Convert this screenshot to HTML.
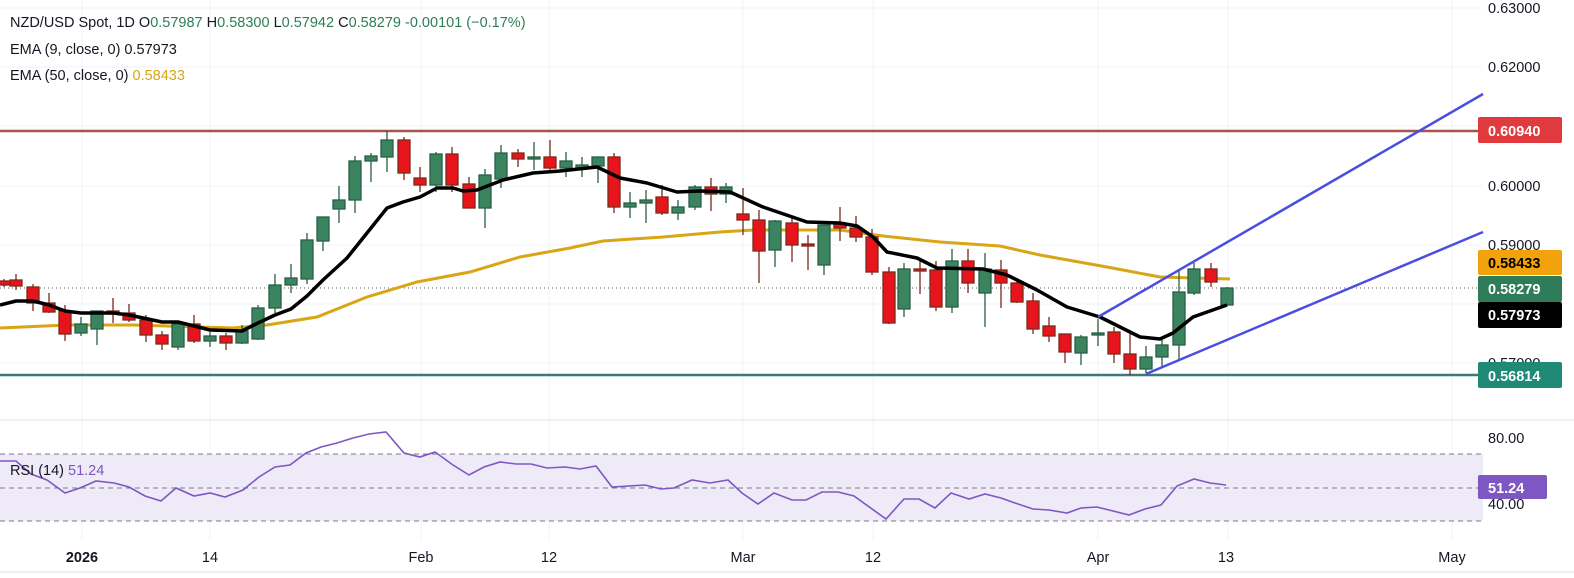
<!DOCTYPE html>
<html><head><meta charset="utf-8"><style>
html,body{margin:0;padding:0;background:#fff;}
svg{display:block;font-family:"Liberation Sans",sans-serif;}
</style></head><body>
<svg width="1574" height="578" viewBox="0 0 1574 578" xmlns="http://www.w3.org/2000/svg">
<rect width="1574" height="578" fill="#fff"/>
<g stroke="#f0f3fa" stroke-width="1">
<line x1="0" y1="8" x2="1483" y2="8"/><line x1="0" y1="67" x2="1483" y2="67"/><line x1="0" y1="126" x2="1483" y2="126"/><line x1="0" y1="186" x2="1483" y2="186"/><line x1="0" y1="245" x2="1483" y2="245"/><line x1="0" y1="304" x2="1483" y2="304"/><line x1="0" y1="363" x2="1483" y2="363"/>
<line x1="82" y1="0" x2="82" y2="540"/><line x1="210" y1="0" x2="210" y2="540"/><line x1="421" y1="0" x2="421" y2="540"/><line x1="549" y1="0" x2="549" y2="540"/><line x1="743" y1="0" x2="743" y2="540"/><line x1="873" y1="0" x2="873" y2="540"/><line x1="1098" y1="0" x2="1098" y2="540"/><line x1="1228" y1="0" x2="1228" y2="540"/><line x1="1452" y1="0" x2="1452" y2="540"/>
</g>
<line x1="0" y1="420" x2="1574" y2="420" stroke="#e0e3eb"/>
<line x1="0" y1="572" x2="1574" y2="572" stroke="#eef0f4" stroke-width="2"/>
<!-- horizontal levels -->
<line x1="0" y1="131" x2="1483" y2="131" stroke="#a4554a" stroke-width="2.5"/>
<line x1="0" y1="375" x2="1483" y2="375" stroke="#3c7a72" stroke-width="2.5"/>
<line x1="0" y1="288" x2="1483" y2="288" stroke="#555" stroke-width="1" stroke-dasharray="1,3"/>
<!-- EMA50 -->
<polyline fill="none" stroke="#d9a514" stroke-width="3" points="0,328 67,325 133,325 233,328 267,325 317,317 367,297 417,282 470,272 520,257 570,248 603,241 663,237 720,232 753,230 840,230 883,236 940,242 1000,246 1040,255 1107,267 1160,277 1230,279"/>
<!-- candles -->
<g stroke-width="1.3">
<g stroke="#7a2a1a" fill="#e8141c">
<line x1="4" y1="279" x2="4" y2="287"/><rect x="-2" y="281" width="12" height="4"/>
<line x1="16" y1="274" x2="16" y2="290"/><rect x="10" y="280" width="12" height="6"/>
<line x1="33" y1="284" x2="33" y2="311"/><rect x="27" y="287" width="12" height="16"/>
<line x1="49" y1="293" x2="49" y2="313"/><rect x="43" y="303" width="12" height="9"/>
<line x1="65" y1="305" x2="65" y2="341"/><rect x="59" y="311" width="12" height="23"/>
<line x1="113" y1="298" x2="113" y2="323"/><rect x="107" y="311" width="12" height="3"/>
<line x1="129" y1="304" x2="129" y2="322"/><rect x="123" y="313" width="12" height="7"/>
<line x1="146" y1="315" x2="146" y2="342"/><rect x="140" y="320" width="12" height="15"/>
<line x1="162" y1="331" x2="162" y2="350"/><rect x="156" y="335" width="12" height="9"/>
<line x1="194" y1="315" x2="194" y2="343"/><rect x="188" y="324" width="12" height="17"/>
<line x1="226" y1="333" x2="226" y2="350"/><rect x="220" y="336" width="12" height="7"/>
<line x1="404" y1="137" x2="404" y2="180"/><rect x="398" y="140" width="12" height="33"/>
<line x1="420" y1="167" x2="420" y2="192"/><rect x="414" y="178" width="12" height="7"/>
<line x1="452" y1="147" x2="452" y2="192"/><rect x="446" y="154" width="12" height="31"/>
<line x1="469" y1="177" x2="469" y2="208"/><rect x="463" y="184" width="12" height="24"/>
<line x1="518" y1="149" x2="518" y2="167"/><rect x="512" y="153" width="12" height="6"/>
<line x1="550" y1="140" x2="550" y2="170"/><rect x="544" y="157" width="12" height="11"/>
<line x1="614" y1="153" x2="614" y2="213"/><rect x="608" y="157" width="12" height="50"/>
<line x1="662" y1="185" x2="662" y2="215"/><rect x="656" y="197" width="12" height="16"/>
<line x1="711" y1="178" x2="711" y2="211"/><rect x="705" y="187" width="12" height="7"/>
<line x1="743" y1="188" x2="743" y2="235"/><rect x="737" y="214" width="12" height="6"/>
<line x1="759" y1="210" x2="759" y2="283"/><rect x="753" y="220" width="12" height="31"/>
<line x1="792" y1="217" x2="792" y2="262"/><rect x="786" y="223" width="12" height="22"/>
<line x1="808" y1="235" x2="808" y2="270"/><rect x="802" y="244" width="12" height="2"/>
<line x1="840" y1="207" x2="840" y2="241"/><rect x="834" y="224" width="12" height="4"/>
<line x1="856" y1="216" x2="856" y2="242"/><rect x="850" y="228" width="12" height="9"/>
<line x1="872" y1="229" x2="872" y2="275"/><rect x="866" y="237" width="12" height="35"/>
<line x1="889" y1="267" x2="889" y2="324"/><rect x="883" y="272" width="12" height="51"/>
<line x1="920" y1="260" x2="920" y2="294"/><rect x="914" y="269" width="12" height="2"/>
<line x1="936" y1="261" x2="936" y2="311"/><rect x="930" y="270" width="12" height="37"/>
<line x1="968" y1="249" x2="968" y2="293"/><rect x="962" y="261" width="12" height="22"/>
<line x1="1001" y1="260" x2="1001" y2="308"/><rect x="995" y="270" width="12" height="13"/>
<line x1="1017" y1="278" x2="1017" y2="303"/><rect x="1011" y="283" width="12" height="19"/>
<line x1="1033" y1="293" x2="1033" y2="334"/><rect x="1027" y="301" width="12" height="28"/>
<line x1="1049" y1="317" x2="1049" y2="342"/><rect x="1043" y="326" width="12" height="10"/>
<line x1="1065" y1="334" x2="1065" y2="363"/><rect x="1059" y="334" width="12" height="18"/>
<line x1="1114" y1="327" x2="1114" y2="363"/><rect x="1108" y="332" width="12" height="22"/>
<line x1="1130" y1="333" x2="1130" y2="375"/><rect x="1124" y="354" width="12" height="15"/>
<line x1="1211" y1="263" x2="1211" y2="287"/><rect x="1205" y="269" width="12" height="13"/>
</g>
<g stroke="#2a5e45" fill="#3a8560">
<line x1="81" y1="317" x2="81" y2="336"/><rect x="75" y="324" width="12" height="9"/>
<line x1="97" y1="311" x2="97" y2="345"/><rect x="91" y="311" width="12" height="18"/>
<line x1="178" y1="322" x2="178" y2="350"/><rect x="172" y="324" width="12" height="23"/>
<line x1="210" y1="332" x2="210" y2="347"/><rect x="204" y="336" width="12" height="5"/>
<line x1="242" y1="325" x2="242" y2="344"/><rect x="236" y="331" width="12" height="12"/>
<line x1="258" y1="305" x2="258" y2="340"/><rect x="252" y="308" width="12" height="31"/>
<line x1="275" y1="274" x2="275" y2="313"/><rect x="269" y="285" width="12" height="23"/>
<line x1="291" y1="264" x2="291" y2="293"/><rect x="285" y="278" width="12" height="7"/>
<line x1="307" y1="233" x2="307" y2="284"/><rect x="301" y="240" width="12" height="39"/>
<line x1="323" y1="217" x2="323" y2="251"/><rect x="317" y="217" width="12" height="24"/>
<line x1="339" y1="186" x2="339" y2="223"/><rect x="333" y="200" width="12" height="9"/>
<line x1="355" y1="156" x2="355" y2="213"/><rect x="349" y="161" width="12" height="39"/>
<line x1="371" y1="153" x2="371" y2="182"/><rect x="365" y="156" width="12" height="5"/>
<line x1="387" y1="131" x2="387" y2="172"/><rect x="381" y="140" width="12" height="17"/>
<line x1="436" y1="152" x2="436" y2="192"/><rect x="430" y="154" width="12" height="31"/>
<line x1="485" y1="169" x2="485" y2="228"/><rect x="479" y="175" width="12" height="33"/>
<line x1="501" y1="145" x2="501" y2="188"/><rect x="495" y="153" width="12" height="26"/>
<line x1="534" y1="142" x2="534" y2="170"/><rect x="528" y="157" width="12" height="2"/>
<line x1="566" y1="152" x2="566" y2="177"/><rect x="560" y="161" width="12" height="7"/>
<line x1="582" y1="157" x2="582" y2="177"/><rect x="576" y="165" width="12" height="3"/>
<line x1="598" y1="157" x2="598" y2="183"/><rect x="592" y="157" width="12" height="9"/>
<line x1="630" y1="192" x2="630" y2="218"/><rect x="624" y="203" width="12" height="4"/>
<line x1="646" y1="190" x2="646" y2="223"/><rect x="640" y="200" width="12" height="3"/>
<line x1="678" y1="200" x2="678" y2="220"/><rect x="672" y="207" width="12" height="6"/>
<line x1="695" y1="185" x2="695" y2="210"/><rect x="689" y="187" width="12" height="20"/>
<line x1="726" y1="183" x2="726" y2="203"/><rect x="720" y="187" width="12" height="7"/>
<line x1="775" y1="220" x2="775" y2="267"/><rect x="769" y="221" width="12" height="29"/>
<line x1="824" y1="225" x2="824" y2="275"/><rect x="818" y="225" width="12" height="40"/>
<line x1="904" y1="263" x2="904" y2="317"/><rect x="898" y="269" width="12" height="40"/>
<line x1="952" y1="249" x2="952" y2="313"/><rect x="946" y="261" width="12" height="46"/>
<line x1="985" y1="253" x2="985" y2="327"/><rect x="979" y="269" width="12" height="24"/>
<line x1="1081" y1="335" x2="1081" y2="365"/><rect x="1075" y="337" width="12" height="16"/>
<line x1="1098" y1="319" x2="1098" y2="346"/><rect x="1092" y="333" width="12" height="2"/>
<line x1="1146" y1="346" x2="1146" y2="373"/><rect x="1140" y="357" width="12" height="12"/>
<line x1="1162" y1="337" x2="1162" y2="367"/><rect x="1156" y="345" width="12" height="12"/>
<line x1="1179" y1="271" x2="1179" y2="360"/><rect x="1173" y="292" width="12" height="53"/>
<line x1="1194" y1="263" x2="1194" y2="295"/><rect x="1188" y="269" width="12" height="24"/>
<line x1="1227" y1="287" x2="1227" y2="306"/><rect x="1221" y="288" width="12" height="17"/>
</g>
</g>
<!-- EMA9 -->
<polyline fill="none" stroke="#000" stroke-width="3.5" stroke-linejoin="round" points="0,305 16,301 33,301 49,305 65,311 81,313 113,313 129,315 162,322 178,322 210,330 242,331 258,323 275,315 291,309 307,296 323,280 347,258 367,233 387,208 403,202 420,197 437,188 453,188 463,191 477,190 503,180 533,173 560,171 597,167 620,178 647,183 677,192 700,191 730,192 763,207 807,222 840,223 857,226 873,237 887,252 917,258 937,268 983,269 1007,275 1037,290 1067,307 1100,317 1140,337 1160,339 1173,333 1193,317 1210,311 1227,305"/>
<!-- channel -->
<line x1="1098" y1="317" x2="1483" y2="94" stroke="#4a4ee0" stroke-width="2.5"/>
<line x1="1146" y1="374" x2="1483" y2="232" stroke="#4a4ee0" stroke-width="2.5"/>
<!-- header -->
<g font-size="14.5" fill="#131722">
<text x="10" y="27">NZD/USD Spot, 1D  O<tspan fill="#2e7d58">0.57987</tspan>  H<tspan fill="#2e7d58">0.58300</tspan>  L<tspan fill="#2e7d58">0.57942</tspan>  C<tspan fill="#2e7d58">0.58279</tspan>  <tspan fill="#2e7d58">-0.00101 (−0.17%)</tspan></text>
<text x="10" y="54">EMA (9, close, 0)  0.57973</text>
<text x="10" y="80">EMA (50, close, 0)  <tspan fill="#d4a711">0.58433</tspan></text>
</g>
<!-- price axis -->
<g font-size="14.5" fill="#131722">
<text x="1488" y="13">0.63000</text>
<text x="1488" y="72">0.62000</text>
<text x="1488" y="191">0.60000</text>
<text x="1488" y="250">0.59000</text>
<text x="1488" y="368">0.57000</text>
</g>
<rect x="1478" y="117" width="84" height="26" rx="2" fill="#e0393e"/>
<text x="1488" y="136" font-size="14.5" font-weight="bold" fill="#fff">0.60940</text>
<rect x="1478" y="250" width="84" height="25" rx="2" fill="#f2a20a"/>
<text x="1488" y="268" font-size="14.5" font-weight="bold" fill="#000">0.58433</text>
<rect x="1478" y="276" width="84" height="26" rx="2" fill="#2f7d58"/>
<text x="1488" y="294" font-size="14.5" font-weight="bold" fill="#fff">0.58279</text>
<rect x="1478" y="302" width="84" height="26" rx="2" fill="#000"/>
<text x="1488" y="320" font-size="14.5" font-weight="bold" fill="#fff">0.57973</text>
<rect x="1478" y="362" width="84" height="26" rx="2" fill="#1f8b77"/>
<text x="1488" y="381" font-size="14.5" font-weight="bold" fill="#fff">0.56814</text>
<!-- RSI pane -->
<rect x="0" y="454" width="1483" height="67" fill="#efeaf8"/>
<g stroke="#787b86" stroke-width="1" stroke-dasharray="5,4">
<line x1="0" y1="454" x2="1483" y2="454"/><line x1="0" y1="488" x2="1483" y2="488"/><line x1="0" y1="521" x2="1483" y2="521"/>
</g>
<polyline fill="none" stroke="#7e57c2" stroke-width="1.6" points="0,461 16,461 31,474 47,480 65,493 80,488 96,481 114,483 129,487 145,496 161,501 176,488 194,496 210,493 225,497 243,490 259,477 275,467 290,465 306,453 321,447 337,443 353,438 369,434 386,432 404,453 420,457 435,452 453,465 469,475 484,467 500,462 516,464 531,464 547,468 565,467 580,469 596,466 612,487 629,486 645,485 661,489 674,488 692,480 710,483 728,480 742,493 758,504 774,493 792,500 806,500 822,492 838,492 854,496 886,519 904,499 919,499 935,508 951,493 969,499 985,494 1001,498 1015,503 1033,509 1049,510 1067,513 1081,508 1097,507 1113,511 1129,515 1145,509 1161,505 1177,486 1194,479 1210,483 1226,485"/>
<text x="10" y="475" font-size="14.5" fill="#131722">RSI (14)  <tspan fill="#7e57c2">51.24</tspan></text>
<text x="1488" y="443" font-size="14.5" fill="#131722">80.00</text>
<text x="1488" y="509" font-size="14.5" fill="#131722">40.00</text>
<rect x="1478" y="475" width="69" height="24" rx="2" fill="#7e57c2"/>
<text x="1488" y="493" font-size="14.5" font-weight="bold" fill="#fff">51.24</text>
<!-- time axis -->
<g font-size="14.5" fill="#131722" text-anchor="middle">
<text x="82" y="562" font-weight="bold">2026</text>
<text x="210" y="562">14</text>
<text x="421" y="562">Feb</text>
<text x="549" y="562">12</text>
<text x="743" y="562">Mar</text>
<text x="873" y="562">12</text>
<text x="1098" y="562">Apr</text>
<text x="1226" y="562">13</text>
<text x="1452" y="562">May</text>
</g>
</svg>
</body></html>
